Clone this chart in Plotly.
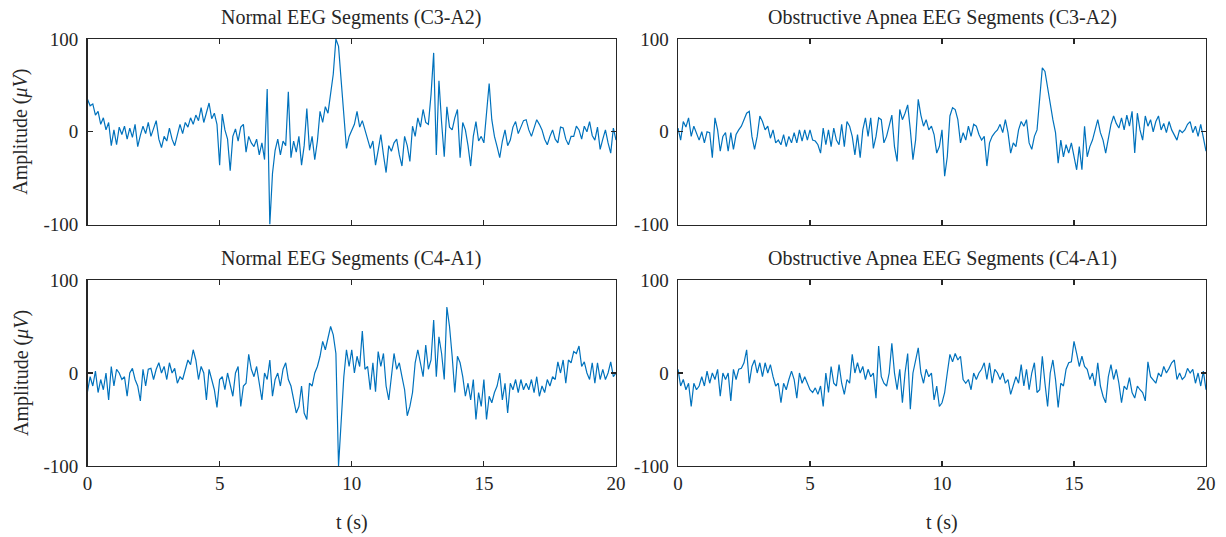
import plotly.graph_objects as go

# ---------------- data (0.1 s sampling) ----------------
time_s = [round(i * 0.1, 1) for i in range(201)]

normal_c3a2 = [
    35, 28, 30, 18, 22, 8, 15, 2, 10, -15,
    2, -14, 5, -3, 6, -8, 4, -6, 8, -16,
    -4, 6, -2, 10, -5, 3, 12, -8, -17, -5,
    -10, 4, -8, -15, -3, 8, -2, 10, 5, 15,
    8, 18, 12, 26, 10, 20, 31, 14, 20, 8,
    -36, 19, 2, -8, -42, -5, 3, -10, 5, 8,
    -22, -5, -12, -16, -8, -25, -12, -30, 46, -100,
    -45, -20, -8, -25, -10, -15, 43, -28, -10, -22,
    -5, -36, -15, 25, -20, -5, -30, -10, 22, 10,
    27, 20, 40, 62, 100, 92, 55, 22, -18, -5,
    2, 8, 22, 5, 12, 2, -6, -18, -10, -36,
    -20, -3, -25, -44, -15, -21, -12, -8, -25, -37,
    -5, -15, -32, 6, -5, 15, 5, 24, 10, 8,
    40, 85, -25, 55, 10, -27, 27, 5, 2, 15,
    24, -28, 10, 2, -15, -37, -5, 11, -10, -5,
    -12, 20, 52, 13, -5, -16, -28, -10, 2, -15,
    -9, 5, 11, -2, 6, 12, 13, 2, -5, 5,
    13, 8, 2, -8, -14, -5, 2, -8, -12, 5,
    4, -8, -14, -5, -5, 6, 2, -8, 6, 0,
    11, -4, -9, 5, -19, -8, 2, -12, -23, 4,
    -9,
]

apnea_c3a2 = [
    4, -9, 11, 5, 15, -5, 6, -2, -9, 0,
    -12, 0, -1, -28, 15, 2, -21, -5, -1, -21,
    -1, -19, -3, 2, 6, 13, 20, 22, -5, -19,
    -5, 17, 11, 2, 6, -7, 2, -12, -9, -14,
    -3, -16, -5, -12, -1, -12, 2, -10, 2, -9,
    2, -9, -10, -14, -23, 4, -14, 2, -16, 4,
    -9, -14, 8, -16, 11, 6, -5, -25, -3, -28,
    2, 15, -5, 15, -18, -5, 15, 13, -12, -5,
    6, 18, -16, -32, 24, 13, 20, 29, 2, -30,
    -9, 35, 18, 6, 13, 2, 6, -3, -23, -16,
    2, -48, -27, 17, 26, 24, 13, -12, -1, -9,
    6, -5, 8, 6, -3, -9, -5, -37, -12, -5,
    -1, 2, 8, -1, 13, -1, -23, -12, -16, 2,
    11, 6, 13, -12, -19, -5, 2, 38, 69, 65,
    47, 31, 13, -1, -34, -9, -27, -14, -23, -12,
    -27, -41, -16, -41, 6, -27, -16, -9, 2, 13,
    -1, -9, -23, -9, 8, 17, 9, 4, 15, 2,
    18, 6, 22, -23, 20, 2, -9, 17, 6, 13,
    0, 11, 17, 2, 9, -1, 11, 2, -3, -9,
    2, -1, 2, 8, 11, -1, 6, -5, 8, -5,
    -21,
]

normal_c4a1 = [
    -20, -4, -14, 2, -21, -7, -18, 0, -29, 7,
    -14, 4, 0, -7, -4, -25, 0, 5, -7, -14,
    -30, 4, -14, 4, 5, -7, 4, 11, 0, 7,
    -7, 11, 0, 5, -11, -4, -7, 4, 14, 9,
    25, 14, -7, 7, 0, -29, 4, -7, -18, -37,
    -7, -4, -18, 0, -14, -25, 0, 7, -36, -14,
    -11, 20, 4, -4, 7, -11, -29, 0, -7, 14,
    -25, -7, 0, -14, 4, 11, -7, -14, -29, -43,
    -36, -14, -43, -50, -11, -14, 0, 7, 18, 34,
    25, 36, 50, 41, 21, -100, -50, -4, 25, 7,
    25, 0, 18, 7, 45, 4, 7, -18, 11, -20,
    23, 7, 21, -14, -29, 0, 21, 4, 11, -4,
    -18, -46, -36, -21, 11, 25, 11, -4, 30, 4,
    14, 57, -4, 39, 21, -7, 71, 50, 18, -21,
    18, 11, -4, -25, -11, -29, -7, -50, -21, -36,
    -7, -50, -25, -32, -21, -14, 0, -29, -11, -43,
    -11, -18, -7, -21, -7, -18, -11, -18, -7, -21,
    -4, -25, -14, -21, -7, -14, -4, -7, 12, 0,
    14, -11, 14, 11, 23, 21, 29, 7, 12, 0,
    -7, 11, -11, 11, -7, 4, -7, 0, 12, -4,
    0,
]

apnea_c4a1 = [
    4, -14, -7, -18, -11, -36, -11, -18, -14, -4,
    -14, 2, -11, 0, -7, 4, -25, 0, -7, 0,
    -30, 4, -7, 4, 5, 11, 25, -11, 7, 14,
    0, 11, -4, 11, 0, 9, -4, -14, -11, -32,
    -11, -18, -7, 2, -7, -27, 0, -11, -4, -12,
    -18, -21, -16, -23, -14, -36, 0, -21, 7, -11,
    -14, 9, -11, -23, -7, -11, 20, 0, 11, 0,
    7, -7, 4, -4, 0, -27, 29, -4, -11, -14,
    0, 32, 0, -18, 4, -32, 0, 21, -39, 0,
    14, 27, 0, -11, 4, -4, 0, -29, -14, -36,
    -32, -21, 0, 20, 12, 21, 14, 18, -7, -11,
    -7, -18, 0, -7, 0, 4, 11, -7, 11, -11,
    4, 0, -7, 0, -11, -7, -23, -14, -4, -11,
    9, -14, 4, -18, 0, 11, -21, -18, 18, -11,
    -36, 0, 14, -7, -37, -11, -14, 4, 11, 12,
    34, 21, 7, 18, 7, 4, -7, 0, -14, 11,
    -14, -25, -32, -4, 9, -7, 4, -11, -32, -14,
    -18, -5, -21, -27, -14, -18, -21, -30, 12, -4,
    -7, -11, 0, -4, 7, 0, 5, 11, 14, -7,
    0, -7, -4, 5, 0, 4, -11, 0, -14, 2,
    -18,
]

panel_titles = [
    "Normal EEG Segments (C3-A2)",
    "Obstructive Apnea EEG Segments (C3-A2)",
    "Normal EEG Segments (C4-A1)",
    "Obstructive Apnea EEG Segments (C4-A1)",
]
x_tick_values = [0, 5, 10, 15, 20]
x_tick_labels = ["0", "5", "10", "15", "20"]
y_tick_values = [-100, 0, 100]
y_tick_labels = ["-100", "0", "100"]
x_label = "t (s)"
y_label = "Amplitude (<i>μV</i>)"

# ---------------- figure ----------------
W, H = 1226, 537
FONT = "Liberation Serif"
INK = "#262626"
LINE = "#0072BD"

# pixel geometry (screen pixels) of the four axes boxes
cols_px = [(87.5, 616), (678, 1206)]
rows_px = [(39, 224.5), (280, 466)]

def fx(px):
    return px / W

def fy(py):
    return 1 - py / H

series = [normal_c3a2, apnea_c3a2, normal_c4a1, apnea_c4a1]

fig = go.Figure()
annotations = []
for k, vals in enumerate(series):
    r, c = divmod(k, 2)
    sfx = "" if k == 0 else str(k + 1)
    fig.add_trace(go.Scatter(
        x=time_s, y=vals, mode="lines",
        line=dict(color=LINE, width=1.2),
        xaxis="x" + sfx, yaxis="y" + sfx, showlegend=False,
        hoverinfo="skip",
    ))
    common = dict(
        ticks="inside", ticklen=5, tickwidth=1.2, tickcolor=INK,
        showline=True, linecolor=INK, linewidth=1.4, mirror="ticks",
        showgrid=False, zeroline=False, automargin=False,
        tickfont=dict(family=FONT, size=19, color=INK),
    )
    fig.layout["xaxis" + sfx] = dict(
        domain=[fx(cols_px[c][0]), fx(cols_px[c][1])], range=[0, 20],
        anchor="y" + sfx,
        tickmode="array", tickvals=x_tick_values, ticktext=x_tick_labels,
        showticklabels=(r == 1), **common,
    )
    fig.layout["yaxis" + sfx] = dict(
        domain=[fy(rows_px[r][1]), fy(rows_px[r][0])], range=[-100, 100],
        anchor="x" + sfx,
        tickmode="array", tickvals=y_tick_values, ticktext=y_tick_labels,
        ticklabelstandoff=4, **common,
    )
    cx = fx((cols_px[c][0] + cols_px[c][1]) / 2)
    annotations.append(dict(
        text=panel_titles[k], x=cx, y=fy(rows_px[r][0] - 22),
        xref="paper", yref="paper",
        xanchor="center", yanchor="middle", showarrow=False,
        font=dict(family=FONT, size=20, color=INK),
    ))
    if r == 1:
        annotations.append(dict(
            text=x_label, x=cx, y=fy(522), xref="paper", yref="paper",
            xanchor="center", yanchor="middle", showarrow=False,
            font=dict(family=FONT, size=20, color=INK),
        ))
    if c == 0:
        cy = fy((rows_px[r][0] + rows_px[r][1]) / 2)
        annotations.append(dict(
            text=y_label, x=fx(21), y=cy, xref="paper", yref="paper",
            xanchor="center", yanchor="middle", textangle=-90, showarrow=False,
            font=dict(family=FONT, size=20, color=INK),
        ))

fig.update_layout(
    width=W, height=H,
    margin=dict(l=0, r=0, t=0, b=0, autoexpand=False),
    paper_bgcolor="white", plot_bgcolor="white",
    annotations=annotations,
    hovermode=False,
)

# remove the page's default 8px body margin so the figure fills the window
fig.write_html(
    "out.html",
    config={"displayModeBar": False, "staticPlot": True},
    post_script="document.body.style.margin='0px';",
)
